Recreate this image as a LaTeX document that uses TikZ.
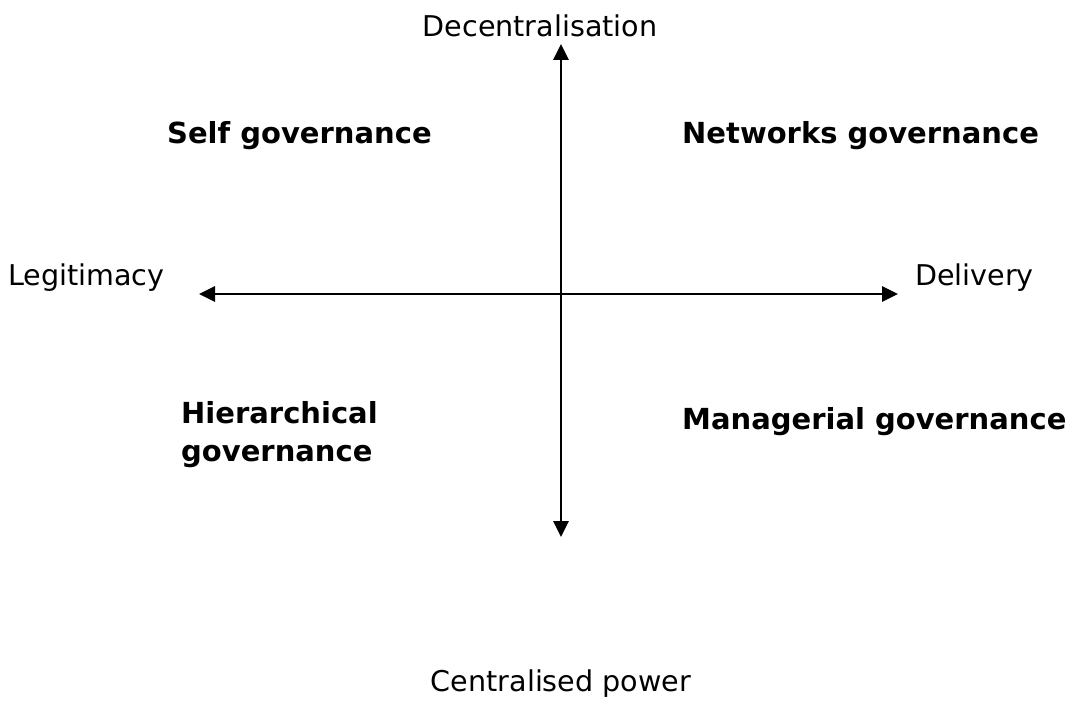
\documentclass[tikz,border=0pt]{standalone}
\usepackage{fontspec}
\setmainfont{DejaVu Sans}
\usetikzlibrary{arrows.meta, positioning}

\begin{document}
\begin{tikzpicture}[
    x=1pt, y=-1pt,
    font=\fontsize{28.6}{34}\selectfont,
    axislabel/.style={inner sep=0pt},
    quad/.style={inner sep=0pt, anchor=west, align=left, font=\fontsize{29}{38}\selectfont\bfseries},
    ax/.style={{Triangle[length=16pt, width=15pt]}-{Triangle[length=16pt, width=15pt]}, line width=2.8pt}
  ]
    \useasboundingbox (0,0) rectangle (1072,717);
    % axis ends
    \coordinate (top) at (561,44);
    \coordinate (bot) at (561,537);
    \coordinate (lft) at (199,294);
    \coordinate (rgt) at (898,294);
    \draw[ax] (bot) -- (top);
    \draw[ax] (lft) -- (rgt);
    % axis labels
    \node[axislabel] (dec) at (540,26) {Decentralisation};
    \node[axislabel] (cen) at (561,684) {Centralised power};
    \node[axislabel, anchor=west] (leg) at (8,278) {Legitimacy};
    \node[axislabel, anchor=west] (del) at (915,278) {Delivery};
    % quadrants
    \node[quad] (self) at (167,136) {Self governance};
    \node[quad] (net) at (682,136) {Networks governance};
    \node[quad] (hier) at (181,435) {Hierarchical\\governance};
    \node[quad] (man) at (682,422) {Managerial governance};
  \end{tikzpicture}
\end{document}
